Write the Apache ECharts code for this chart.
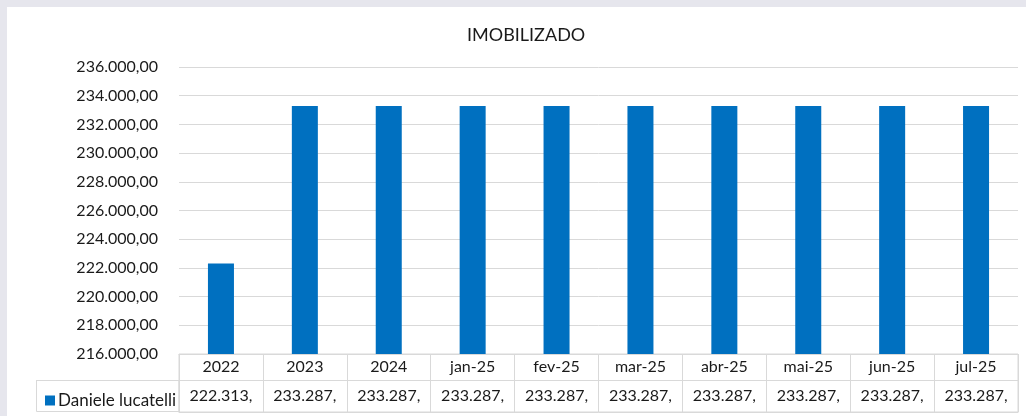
<!DOCTYPE html>
<html>
<head>
<meta charset="utf-8">
<script src="https://cdn.jsdelivr.net/npm/echarts@6/dist/echarts.min.js"></script>
<style>
  html, body { margin: 0; padding: 0; background: #fff; }
  #chart { width: 1026px; height: 416px; }
</style>
</head>
<body>
<div id="chart"></div>
<script>
var categories = ['2022', '2023', '2024', 'jan-25', 'fev-25', 'mar-25', 'abr-25', 'mai-25', 'jun-25', 'jul-25'];
var seriesName = 'Daniele lucatelli';
var values = [222313, 233287, 233287, 233287, 233287, 233287, 233287, 233287, 233287, 233287];
var yMin = 216000;
var yMax = 236000;
var yStep = 2000;

var FONT = 'Lato';
var TXT = '#1a1a1a';
var LINE = '#d9d9d9';

function fmtBR(v) {
  var s = Math.round(v).toString().replace(/\B(?=(\d{3})+(?!\d))/g, '.');
  return s + ',00';
}
// excel data table cuts the cell text after the comma
function cellText(v) {
  var s = fmtBR(v);
  return s.slice(0, s.indexOf(',') + 1);
}

var chart = echarts.init(document.getElementById('chart'));

var option = {
  backgroundColor: '#fff',
  animation: false,
  textStyle: { fontFamily: FONT },
  title: {
    text: 'IMOBILIZADO',
    left: 462,
    top: 21,
    textStyle: { fontFamily: FONT, fontSize: 18, fontWeight: 'normal', color: TXT }
  },
  legend: {
    data: [seriesName],
    left: 40,
    top: 387,
    icon: 'rect',
    itemWidth: 10,
    itemHeight: 10,
    itemGap: 4,
    textStyle: { fontFamily: FONT, fontSize: 17, color: TXT, padding: [0, 0, 0, -2] },
    selectedMode: false
  },
  grid: [
    { left: 179, right: 8, top: 67, bottom: 62 },
    { left: 179, right: 8, top: 354, bottom: 4, show: true, borderColor: LINE, borderWidth: 1 }
  ],
  xAxis: [
    {
      gridIndex: 0,
      type: 'category',
      data: categories,
      axisLine: { show: true, lineStyle: { color: LINE } },
      axisTick: { show: false },
      axisLabel: { show: false }
    },
    {
      gridIndex: 1,
      type: 'category',
      data: categories,
      position: 'top',
      axisLine: { show: true, lineStyle: { color: LINE } },
      axisTick: { show: false },
      splitLine: { show: true, lineStyle: { color: LINE } },
      axisLabel: {
        inside: true,
        interval: 0,
        margin: 5,
        fontFamily: FONT,
        fontSize: 16,
        color: TXT
      }
    },
    {
      gridIndex: 1,
      type: 'category',
      data: categories,
      position: 'bottom',
      axisLine: { show: false },
      axisTick: { show: false },
      axisLabel: {
        inside: true,
        interval: 0,
        margin: 8,
        fontFamily: FONT,
        fontSize: 16,
        color: TXT,
        formatter: function (val, idx) { return cellText(values[idx]); }
      }
    }
  ],
  yAxis: [
    {
      gridIndex: 0,
      type: 'value',
      min: yMin,
      max: yMax,
      interval: yStep,
      axisLine: { show: false },
      axisTick: { show: false },
      splitLine: { lineStyle: { color: LINE } },
      axisLabel: {
        margin: 21,
        fontFamily: FONT,
        fontSize: 16,
        color: TXT,
        formatter: fmtBR
      }
    },
    {
      gridIndex: 1,
      type: 'value',
      min: 0,
      max: 1,
      show: false
    }
  ],
  graphic: [
    { type: 'rect', shape: { x: 0, y: 0, width: 1026, height: 7 }, style: { fill: '#e6e6ed' }, silent: true },
    { type: 'rect', shape: { x: 0, y: 0, width: 7, height: 416 }, style: { fill: '#e6e6ed' }, silent: true },
    { type: 'line', shape: { x1: 36, y1: 380.5, x2: 1018, y2: 380.5 }, style: { stroke: LINE, lineWidth: 1 }, silent: true },
    { type: 'rect', shape: { x: 36.5, y: 380.5, width: 142.5, height: 31 }, style: { fill: 'none', stroke: LINE, lineWidth: 1 }, silent: true }
  ],
  series: [
    {
      name: seriesName,
      type: 'bar',
      xAxisIndex: 0,
      yAxisIndex: 0,
      data: values,
      barWidth: '31%',
      itemStyle: { color: '#0070c0' }
    }
  ]
};

chart.setOption(option);
</script>
</body>
</html>
